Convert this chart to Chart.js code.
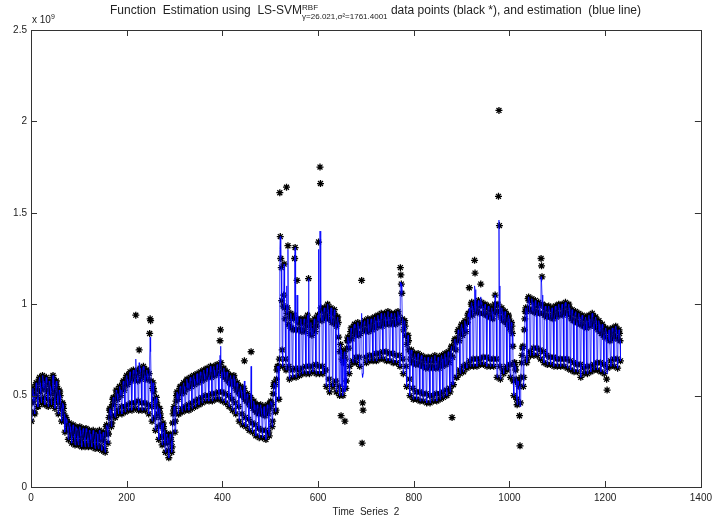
<!DOCTYPE html>
<html><head><meta charset="utf-8">
<script src="https://cdn.jsdelivr.net/npm/chart.js@4.4.0/dist/chart.umd.min.js"></script>
<style>
html,body{margin:0;padding:0;background:#fff;}
#wrap{position:relative;width:717px;height:522px;overflow:hidden;}
canvas{position:absolute;left:0;top:0;}
.t{position:absolute;font-family:"Liberation Sans",Arial,sans-serif;color:#222;white-space:pre;}
.ss{display:inline-block;vertical-align:-5px;font-size:8px;line-height:9px;}
.ss span{display:block;}
</style></head><body>
<div id="wrap">
<canvas id="c" width="717" height="522"></canvas>
<div class="t" id="title" style="left:110px;top:3px;font-size:12px">Function  Estimation using  LS-SVM<span class="ss"><span>RBF</span><span>γ=26.021,σ²=1761.4001</span></span> data points (black *), and estimation  (blue line)</div>
<div class="t" id="exp" style="left:32px;top:13px;font-size:10px">x 10<sup style="font-size:7px">9</sup></div>
</div>
<script>
// x-axis ticks / labels
const xTickValues = [0,200,400,600,800,1000,1200,1400];
const xTickLabels = ['0','200','400','600','800','1000','1200','1400'];
// y-axis ticks / labels (units of 10^9)
const yTickValues = [0,0.5,1,1.5,2,2.5];
const yTickLabels = ['0','0.5','1','1.5','2','2.5'];

// observed data points (black *), units of 10^9, one row per 7 consecutive samples
const observedWeeks = [
[.36,.46,.52,.54,.51,.47,.41],[.40,.50,.56,.57,.54,.49,.44],[.44,.53,.59,.60,.57,.52,.48],[.46,.55,.61,.60,.58,.54,.49],[.45,.54,.59,.60,.57,.52,.48],
[.44,.53,.58,.57,.55,.51,.47],[.45,.54,.60,.61,.58,.53,.48],[.43,.51,.57,.58,.55,.50,.46],[.40,.48,.53,.52,.50,.46,.43],[.36,.43,.46,.45,.43,.40,.38],
[.30,.36,.38,.37,.35,.33,.31],[.26,.32,.35,.34,.33,.30,.28],[.24,.31,.33,.34,.32,.29,.26],[.23,.30,.33,.32,.31,.28,.25],[.23,.30,.32,.33,.31,.28,.25],
[.22,.29,.31,.32,.30,.27,.24],[.22,.29,.32,.31,.30,.27,.24],[.22,.28,.31,.30,.29,.26,.24],[.22,.28,.30,.31,.29,.26,.23],[.21,.28,.30,.30,.29,.26,.23],
[.21,.28,.31,.30,.29,.26,.22],[.20,.27,.29,.30,.28,.25,.21],[.19,.29,.33,.34,.33,.30,.24],[.29,.38,.42,.43,.42,.39,.33],[.35,.45,.48,.49,.48,.45,.39],
[.38,.49,.53,.52,.51,.48,.42],[.40,.51,.55,.54,.53,.50,.44],[.40,.53,.57,.58,.56,.53,.44],[.41,.56,.60,.61,.59,.56,.45],[.42,.58,.62,.63,.61,.58,.46],
[.42,.59,.63,.64,.62,.59,.46],[.43,.94,.63,.62,.61,.58,.47],[.42,.75,.64,.65,.63,.59,.46],[.42,.61,.65,.66,.64,.61,.46],[.42,.59,.63,.64,.62,.59,.45],
[.40,.62,.84,.92,.91,.58,.44],[.36,.54,.57,.54,.52,.48,.38],[.31,.46,.49,.46,.44,.40,.33],[.26,.41,.43,.40,.38,.34,.28],[.23,.33,.35,.33,.31,.27,.24],
[.19,.27,.29,.28,.27,.24,.20],[.16,.26,.28,.29,.27,.25,.19],[.22,.35,.40,.42,.44,.43,.30],[.36,.47,.50,.52,.51,.48,.40],[.40,.51,.54,.55,.54,.51,.43],
[.41,.53,.56,.57,.55,.52,.44],[.42,.55,.58,.59,.57,.54,.45],[.42,.56,.59,.60,.58,.55,.46],[.43,.57,.60,.61,.59,.56,.47],[.44,.58,.61,.62,.60,.57,.48],
[.45,.59,.62,.63,.61,.58,.49],[.46,.60,.63,.64,.62,.59,.50],[.47,.61,.64,.65,.63,.60,.50],[.47,.61,.64,.66,.63,.60,.51],[.47,.62,.65,.66,.64,.61,.51],
[.48,.63,.66,.67,.65,.62,.52],[.48,.66,.80,.86,.68,.63,.52],[.47,.61,.64,.65,.63,.60,.51],[.46,.59,.62,.63,.61,.58,.50],[.44,.57,.60,.61,.59,.56,.48],
[.42,.57,.60,.61,.59,.55,.46],[.40,.53,.56,.57,.55,.52,.44],[.36,.51,.54,.55,.53,.50,.40],[.34,.50,.53,.54,.69,.48,.38],[.33,.47,.50,.51,.49,.46,.37],
[.31,.45,.48,.49,.74,.44,.35],[.30,.43,.46,.47,.45,.42,.34],[.28,.41,.44,.45,.43,.40,.32],[.27,.41,.44,.45,.43,.40,.31],[.27,.40,.43,.44,.42,.39,.31],
[.26,.41,.44,.45,.43,.40,.30],[.28,.43,.46,.47,.46,.45,.33],[.36,.51,.55,.57,.56,.56,.41],[.42,.59,.64,.66,.65,.66,.48],[.70,1.61,1.37,1.25,1.20,1.02,.75],
[.66,.99,1.05,1.22,.98,.92,.70],[.64,1.64,.95,.98,1.32,.89,.66],[.59,.88,.93,.95,.92,.87,.64],[.60,.86,.92,.94,1.25,1.31,.65],[.60,.86,1.13,.92,.90,.86,.64],
[.61,.86,.90,.92,.89,.85,.65],[.62,.86,.91,.92,.90,.85,.66],[.62,.88,.92,.94,.91,1.14,.66],[.62,.84,.88,.90,.87,.83,.66],[.63,.86,.90,.92,.89,.85,.67],
[.62,.88,.92,.94,.91,1.34,.66],[.62,1.75,1.66,.98,.96,.91,.66],[.62,.93,.97,.98,.96,.92,.64],[.55,.94,.98,1.00,.97,.92,.59],[.52,.92,.96,.98,.95,.90,.56],
[.55,.91,.95,.97,.94,.89,.58],[.52,.88,.92,.93,.90,.82,.55],[.50,.74,.78,.39,.75,.70,.53],[.50,.68,.72,.74,.36,.70,.54],[.58,.76,.80,.82,.80,.76,.62],
[.66,.82,.85,.87,.85,.81,.69],[.68,.85,.88,.89,.87,.83,.71],[.68,.85,.88,.90,.88,.83,.71],[.66,.84,.88,.89,1.13,.24,.46],[.42,.86,.90,.91,.89,.85,.71],
[.68,.86,.90,.92,.89,.85,.72],[.69,.87,.91,.92,.90,.86,.72],[.69,.88,.92,.93,.91,.87,.73],[.69,.89,.93,.94,.92,.88,.73],[.70,.89,.93,.95,.92,.88,.74],
[.70,.90,.94,.95,.93,.89,.74],[.69,.90,.94,.96,.93,.89,.73],[.69,.90,.94,.95,.93,.89,.73],[.68,.90,.94,.95,.93,.89,.72],[.68,.91,.95,.96,.94,.90,.72],
[.66,1.20,1.16,1.11,1.06,.92,.70],[.62,.86,.90,.91,.88,.83,.66],[.55,.78,.82,.83,.80,.75,.59],[.50,.70,.74,.75,.73,.68,.54],[.48,.68,.72,.73,.71,.67,.52],
[.48,.68,.72,.73,.71,.67,.52],[.47,.67,.71,.72,.70,.66,.51],[.47,.66,.70,.71,.69,.65,.51],[.46,.66,.70,.71,.69,.65,.50],[.46,.66,.70,.71,.69,.65,.50],
[.47,.66,.70,.72,.69,.65,.51],[.47,.66,.70,.71,.69,.65,.51],[.48,.67,.71,.72,.70,.66,.52],[.49,.68,.72,.73,.71,.67,.53],[.50,.69,.73,.74,.72,.68,.54],
[.52,.72,.76,.77,.38,.71,.56],[.56,.76,.80,.81,.79,.75,.60],[.60,.81,.85,.86,.84,.80,.64],[.62,.84,.88,.89,.87,.83,.66],[.63,.86,.90,.91,.89,.85,.67],
[.65,.90,.94,.95,.93,1.09,.69],[.66,.96,1.00,1.01,.99,.94,.70],[.66,.98,1.24,1.17,1.01,.96,.70],[.66,.96,1.00,1.02,.99,.95,.70],[.67,1.11,1.00,1.01,.99,.95,.71],
[.67,.95,.99,1.00,.98,.94,.71],[.66,.94,.98,.99,.97,.93,.70],[.66,.93,.97,.98,.96,.92,.70],[.66,.96,1.00,1.05,.99,.95,.70],[.60,.96,1.00,1.59,2.06,1.43,.66],
[.59,.93,.97,.98,.96,.91,.64],[.62,.91,.95,.96,.94,.90,.66],[.64,.89,.93,.94,.92,.87,.67],[.60,.86,.90,.88,.84,.77,.58],[.50,.68,.68,.66,.64,.59,.48],
[.45,.58,.58,.56,.55,.39,.225],[.46,.60,.68,.72,.76,.77,.55],[.60,.86,.92,.96,.98,.96,.68],[.70,.98,1.03,1.04,1.02,.97,.74],[.72,.97,1.02,1.03,1.01,.96,.76],
[.72,.96,1.00,1.02,.99,.95,.76],[.72,.96,1.00,1.01,.99,.95,.75],[.70,1.25,1.21,1.15,1.00,.95,.74],[.68,.94,.98,.99,.97,.93,.72],[.67,.94,.98,.99,.97,.93,.71],
[.67,.93,.97,.98,.96,.92,.71],[.66,.94,.98,.99,.97,.93,.70],[.66,.95,.99,1.00,.98,.94,.70],[.66,.95,.99,1.00,.98,.94,.70],[.66,.96,1.00,1.01,.99,.95,.70],
[.65,.95,.99,1.00,.98,.94,.69],[.64,.92,.96,.97,.95,.91,.68],[.63,.91,.95,.96,.94,.90,.67],[.63,.90,.94,.95,.93,.89,.67],[.60,.89,.93,.94,.92,.88,.65],
[.62,.88,.92,.93,.91,.87,.66],[.62,.89,.93,.94,.92,.88,.66],[.63,.90,.94,.95,.93,.89,.67],[.64,.88,.92,.93,.91,.87,.68],[.64,.86,.90,.91,.89,.85,.68],
[.63,.84,.88,.89,.87,.83,.67],[.62,.82,.86,.87,.85,.59,.53],[.65,.81,.85,.86,.84,.80,.69],[.66,.82,.86,.87,.85,.81,.70],[.66,.83,.87,.88,.86,.82,.70],
[.65,.81,.85,.86,.84,.80,.69]
];
// estimation (blue line): where it departs from the observed points (sample index, value)
const estimateFixIndex = [219,226,248,249,250,395,396,446,460,520,534,537,556,601,604,605,648,656,691,692,693,694,772,773,880,916,927,928,940,977,978,979,1021,1022,1066,1067,1068,1203,1204];
const estimateFixValue = [.70,.68,.70,.82,.74,.72,.77,.58,.66,1.30,1.10,1.30,1.05,1.30,1.40,1.32,.55,.52,.95,.62,.60,.62,1.12,1.10,.56,.98,1.10,1.08,1.04,1.00,1.46,1.10,.48,.44,1.15,1.12,1.05,.65,.62];

const observed = observedWeeks.flat();
const estimate = observed.slice();
estimateFixIndex.forEach((t,i)=>{ estimate[t-1] = estimateFixValue[i]; });

const obsPts = observed.map((v,i)=>({x:i+1,y:v}));
const estPts = estimate.map((v,i)=>({x:i+1,y:v}));

const FONT = '"Liberation Sans", Arial, sans-serif';

const boxPlugin = {
  id:'box',
  afterDraw(chart){
    const ctx = chart.ctx, a = chart.chartArea;
    const xs = chart.scales.x, ys = chart.scales.y;
    ctx.save();
    ctx.strokeStyle = '#333';
    ctx.lineWidth = 1;
    ctx.strokeRect(Math.round(a.left)+0.5, Math.round(a.top)+0.5, Math.round(a.right-a.left), Math.round(a.bottom-a.top));
    ctx.beginPath();
    xTickValues.forEach(v=>{
      const p = Math.round(xs.getPixelForValue(v))+0.5;
      ctx.moveTo(p,a.bottom); ctx.lineTo(p,a.bottom-6);
      ctx.moveTo(p,a.top); ctx.lineTo(p,a.top+6);
    });
    yTickValues.forEach(v=>{
      const p = Math.round(ys.getPixelForValue(v))+0.5;
      ctx.moveTo(a.left,p); ctx.lineTo(a.left+6,p);
      ctx.moveTo(a.right,p); ctx.lineTo(a.right-6,p);
    });
    ctx.stroke();
    ctx.restore();
  }
};

new Chart(document.getElementById('c'), {
  type:'scatter',
  data:{datasets:[
    {label:'estimation', type:'line', data:estPts, borderColor:'rgb(0,0,255)', borderWidth:0.75, pointRadius:0, fill:false, tension:0},
    {label:'data points', data:obsPts, pointStyle:'star', pointRadius:3.5, borderColor:'#000', backgroundColor:'#000', borderWidth:1.3}
  ]},
  options:{
    responsive:false, animation:false, devicePixelRatio:1,
    layout:{padding:{top:30,right:11,left:0,bottom:0}},
    plugins:{legend:{display:false}, tooltip:{enabled:false}, title:{display:false}},
    scales:{
      x:{type:'linear', min:0, max:1400,
        afterBuildTicks:s=>{s.ticks = xTickValues.map(v=>({value:v}));},
        ticks:{callback:v=>xTickLabels[xTickValues.indexOf(v)], font:{family:FONT,size:10}, color:'#222', padding:5, maxRotation:0, autoSkip:false},
        grid:{display:false, drawTicks:false}, border:{display:false},
        title:{display:true, text:'Time  Series  2', font:{family:FONT,size:10}, color:'#222', padding:{top:0,bottom:4}},
        afterFit:s=>{s.height = 35;}
      },
      y:{type:'linear', min:0, max:2.5,
        afterBuildTicks:s=>{s.ticks = yTickValues.map(v=>({value:v}));},
        ticks:{callback:v=>yTickLabels[yTickValues.indexOf(v)], font:{family:FONT,size:10}, color:'#222', padding:4, autoSkip:false},
        grid:{display:false, drawTicks:false}, border:{display:false},
        afterFit:s=>{s.width = 31;}
      }
    }
  },
  plugins:[boxPlugin]
});
</script>
</body></html>
